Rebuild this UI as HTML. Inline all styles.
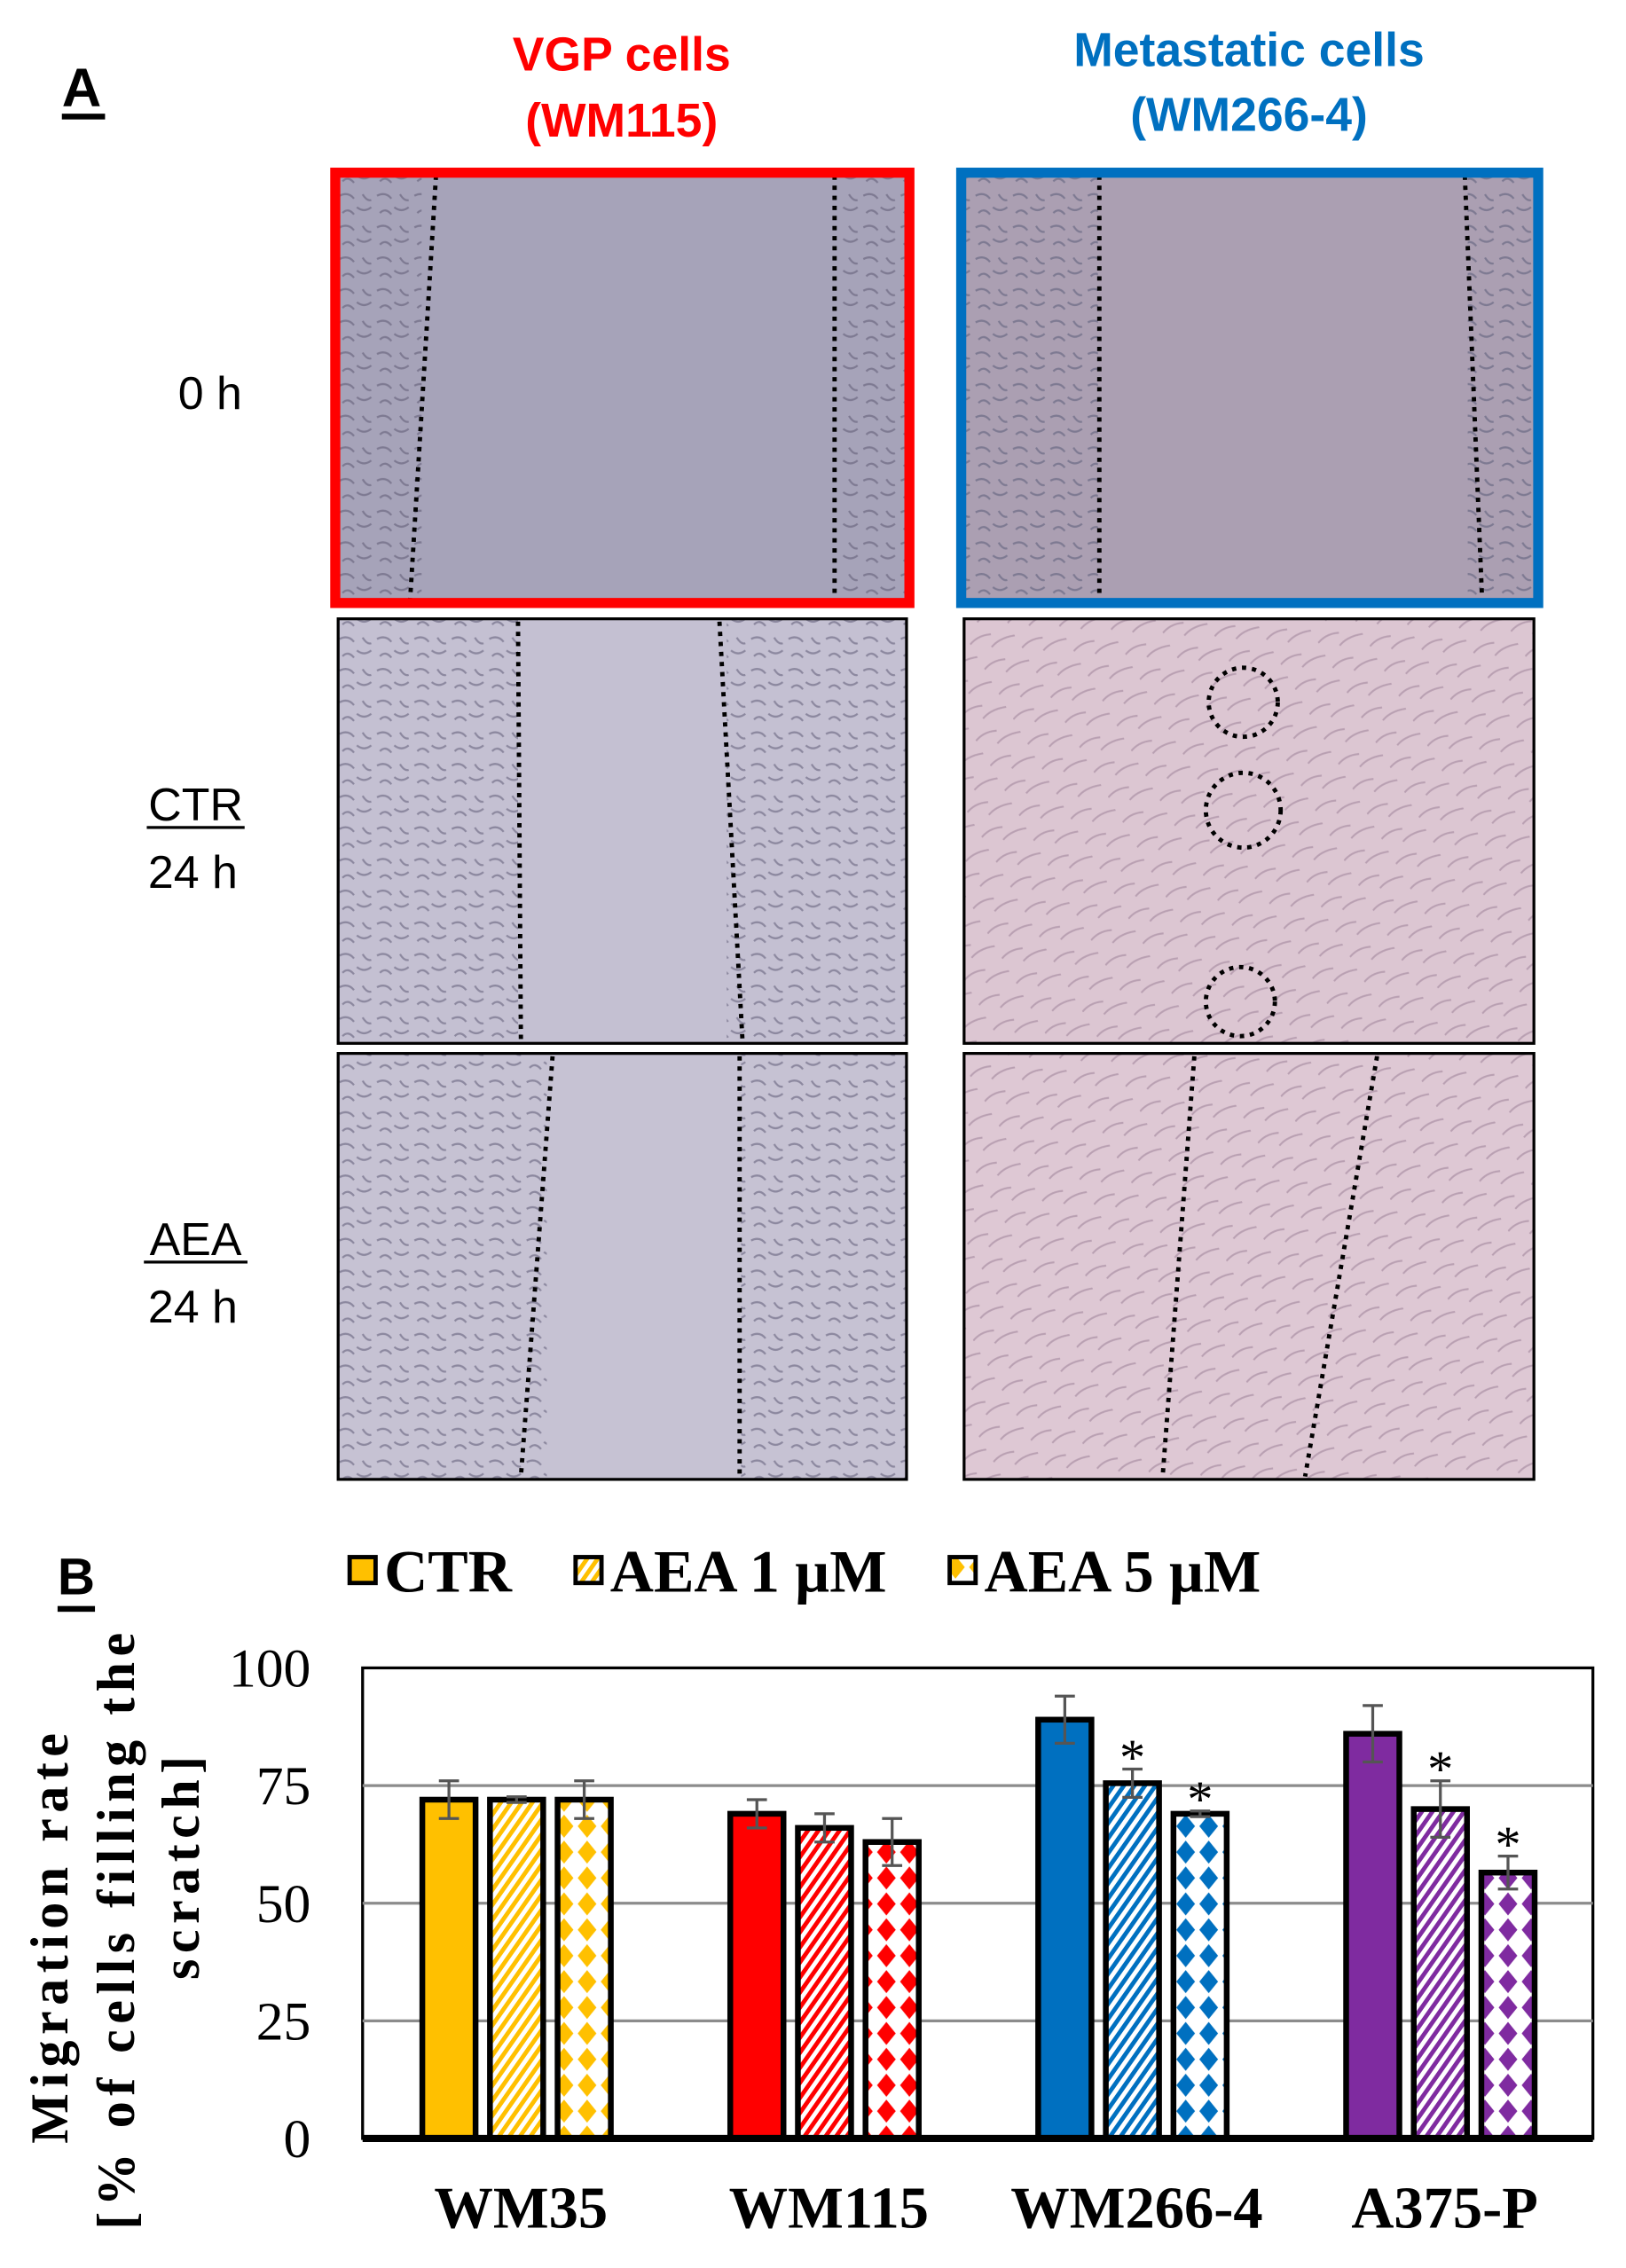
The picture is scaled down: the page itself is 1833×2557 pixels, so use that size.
<!DOCTYPE html>
<html><head><meta charset="utf-8"><style>
html,body{margin:0;padding:0;background:#fff;}
svg{display:block;}
.arial{font-family:"Liberation Sans",Arial,sans-serif;}
.times{font-family:"Liberation Serif","Times New Roman",serif;}
</style></head><body>
<svg id="fig" width="1833" height="2557" viewBox="0 0 1130 1576" preserveAspectRatio="none" xmlns="http://www.w3.org/2000/svg">
<defs>
  <pattern id="cellsA" width="26" height="22" patternUnits="userSpaceOnUse">
    <path d="M2 4 q6 -3 10 2 M14 12 q5 4 10 0 M4 16 q4 -4 8 1 M18 3 q3 5 6 4" stroke="#7e7a92" stroke-width="1.4" fill="none"/>
  </pattern>
  <pattern id="cellsB" width="30" height="20" patternUnits="userSpaceOnUse" patternTransform="rotate(-30)">
    <path d="M0 5 q8 -3 16 1 M12 14 q8 -3 18 1" stroke="#b9a0b2" stroke-width="1.3" fill="none"/>
  </pattern>
</defs>

<!-- Panel A -->
<text class="arial" x="43" y="74" font-size="38" font-weight="bold">A</text>
<rect x="43" y="79" width="30" height="4" fill="#000"/>

<text class="arial" x="432" y="49" font-size="33" font-weight="bold" fill="#ff0000" text-anchor="middle">VGP cells</text>
<text class="arial" x="432" y="95" font-size="33" font-weight="bold" fill="#ff0000" text-anchor="middle">(WM115)</text>
<text class="arial" x="868" y="46" font-size="33" font-weight="bold" fill="#0070c0" text-anchor="middle">Metastatic  cells</text>
<text class="arial" x="868" y="91" font-size="33" font-weight="bold" fill="#0070c0" text-anchor="middle">(WM266-4)</text>

<text class="arial" x="146" y="284" font-size="32" text-anchor="middle">0 h</text>
<text class="arial" x="136" y="570" font-size="32" text-anchor="middle">CTR</text>
<rect x="102" y="574" width="68" height="2" fill="#000"/>
<text class="arial" x="134" y="617" font-size="32" text-anchor="middle">24 h</text>
<text class="arial" x="136" y="872" font-size="32" text-anchor="middle">AEA</text>
<rect x="100" y="876" width="72" height="2" fill="#000"/>
<text class="arial" x="134" y="919" font-size="32" text-anchor="middle">24 h</text>

<!-- micrographs -->
<g>
  <rect x="233" y="120" width="399" height="299" fill="#a6a3b9"/>
  <rect x="233" y="120" width="60" height="299" fill="url(#cellsA)"/>
  <rect x="585" y="120" width="47" height="299" fill="url(#cellsA)"/>
  <line x1="303" y1="122" x2="285" y2="417" stroke="#000" stroke-width="3" stroke-dasharray="3,4"/>
  <line x1="580" y1="122" x2="580" y2="417" stroke="#000" stroke-width="3" stroke-dasharray="3,4"/>
  <rect x="233" y="120" width="399" height="299" fill="none" stroke="#ff0000" stroke-width="7"/>
</g>
<g>
  <rect x="668" y="120" width="401" height="299" fill="#ab9fb2"/>
  <rect x="668" y="120" width="95" height="299" fill="url(#cellsA)"/>
  <rect x="1020" y="120" width="49" height="299" fill="url(#cellsA)"/>
  <line x1="764" y1="122" x2="764" y2="417" stroke="#000" stroke-width="3" stroke-dasharray="3,4"/>
  <line x1="1018" y1="122" x2="1030" y2="417" stroke="#000" stroke-width="3" stroke-dasharray="3,4"/>
  <rect x="668" y="120" width="401" height="299" fill="none" stroke="#0070c0" stroke-width="7"/>
</g>
<g>
  <rect x="235" y="430" width="395" height="295" fill="#c4c0d2"/>
  <rect x="235" y="430" width="125" height="295" fill="url(#cellsA)" opacity="0.8"/>
  <rect x="505" y="430" width="125" height="295" fill="url(#cellsA)" opacity="0.8"/>
  <line x1="360" y1="432" x2="362" y2="723" stroke="#000" stroke-width="3" stroke-dasharray="3,4"/>
  <line x1="500" y1="432" x2="516" y2="723" stroke="#000" stroke-width="3" stroke-dasharray="3,4"/>
  <rect x="235" y="430" width="395" height="295" fill="none" stroke="#000" stroke-width="2"/>
</g>
<g>
  <rect x="670" y="430" width="396" height="295" fill="#dcc6d2"/>
  <rect x="670" y="430" width="396" height="295" fill="url(#cellsB)"/>
  <circle cx="864" cy="488" r="24" fill="none" stroke="#000" stroke-width="3" stroke-dasharray="3,4"/>
  <circle cx="864" cy="563" r="26" fill="none" stroke="#000" stroke-width="3" stroke-dasharray="3,4"/>
  <circle cx="862" cy="696" r="24" fill="none" stroke="#000" stroke-width="3" stroke-dasharray="3,4"/>
  <rect x="670" y="430" width="396" height="295" fill="none" stroke="#000" stroke-width="2"/>
</g>
<g>
  <rect x="235" y="732" width="395" height="296" fill="#c6c2d3"/>
  <rect x="235" y="732" width="145" height="296" fill="url(#cellsA)" opacity="0.8"/>
  <rect x="515" y="732" width="115" height="296" fill="url(#cellsA)" opacity="0.8"/>
  <line x1="384" y1="734" x2="362" y2="1026" stroke="#000" stroke-width="3" stroke-dasharray="3,4"/>
  <line x1="514" y1="734" x2="514" y2="1026" stroke="#000" stroke-width="3" stroke-dasharray="3,4"/>
  <rect x="235" y="732" width="395" height="296" fill="none" stroke="#000" stroke-width="2"/>
</g>
<g>
  <rect x="670" y="732" width="396" height="296" fill="#dec8d4"/>
  <rect x="670" y="732" width="396" height="296" fill="url(#cellsB)"/>
  <line x1="830" y1="734" x2="808" y2="1026" stroke="#000" stroke-width="3" stroke-dasharray="3,4"/>
  <line x1="957" y1="734" x2="907" y2="1026" stroke="#000" stroke-width="3" stroke-dasharray="3,4"/>
  <rect x="670" y="732" width="396" height="296" fill="none" stroke="#000" stroke-width="2"/>
</g>

<!-- Panel B -->
<text class="arial" x="40" y="1108" font-size="36" font-weight="bold">B</text>
<rect x="40" y="1116" width="26" height="4" fill="#000"/>

<g id="legend"></g>
<g id="chart"></g>
</svg>
<script>
const categories = ["WM35", "WM115", "WM266-4", "A375-P"];
const seriesNames = ["CTR", "AEA 1 µM", "AEA 5 µM"];
const ctrValues = [72, 69, 89, 86];
const aea1Values = [72, 66, 75.5, 70];
const aea5Values = [72, 63, 69, 56.5];
const ctrErrors = [4, 3, 5, 6];
const aea1Errors = [0.6, 3, 3, 6];
const aea5Errors = [4, 5, 0.6, 3.5];
const aea1Significant = [false, false, true, true];
const aea5Significant = [false, false, true, true];
const yTicks = [0, 25, 50, 75, 100];
const groupColors = ["#ffc000", "#ff0000", "#0070c0", "#7f2ba0"];

const NS = "http://www.w3.org/2000/svg";
const svg = document.getElementById("fig");
const chart = document.getElementById("chart");
const legend = document.getElementById("legend");
const defs = svg.querySelector("defs");
function mk(tag, attrs, parent) {
  const e = document.createElementNS(NS, tag);
  for (const k in attrs) e.setAttribute(k, attrs[k]);
  parent.appendChild(e);
  return e;
}
const plot = {x0: 252, x1: 1107, y0: 1159, y1: 1486};
const yMax = 100;
function yScale(v) { return plot.y1 - (v / yMax) * (plot.y1 - plot.y0); }
const groupStart = 359, groupStep = 214;
function xGroup(i) { return groupStart + i * groupStep; }
const barOffsets = [-47, 0, 47];
const barW = 37;

// patterns
groupColors.forEach((c, i) => {
  const p1 = mk("pattern", {id: "stripe" + i, width: 6, height: 6, patternUnits: "userSpaceOnUse", patternTransform: "rotate(35)"}, defs);
  mk("rect", {width: 6, height: 6, fill: "#fff"}, p1);
  mk("rect", {width: 3, height: 6, fill: c}, p1);
  const p2 = mk("pattern", {id: "diamond" + i, width: 16, height: 18, patternUnits: "userSpaceOnUse", x: 0, y: 0}, defs);
  mk("rect", {width: 16, height: 18, fill: "#fff"}, p2);
  mk("polygon", {points: "8,1 14.5,9 8,17 1.5,9", fill: c}, p2);
});

// plot frame & grid
const frame = mk("rect", {x: plot.x0, y: plot.y0, width: plot.x1 - plot.x0, height: plot.y1 - plot.y0, fill: "#fff", stroke: "#000", "stroke-width": 2}, chart);


yTicks.forEach(t => {
  const y = yScale(t);
  if (t > 0 && t < yMax) {
    const g = mk("line", {x1: plot.x0, x2: plot.x1, y1: y, y2: y, stroke: "#8c8c8c", "stroke-width": 2}, chart);
    
    
  }
  const tx = mk("text", {x: 216, y: y + 13, "font-size": 38, "text-anchor": "end", class: "times"}, chart);
  tx.textContent = t;
  
  
});

// y-axis title
const titleLines = [["Migration rate", 47, 1345], ["[% of cells filling the", 93, 1340], ["scratch]", 138, 1296]];
titleLines.forEach((l, i) => {
  const t = mk("text", {x: l[1], y: l[2], "font-size": 37, "font-weight": "bold", "text-anchor": "middle", class: "times", "letter-spacing": 4, transform: "rotate(-90 " + l[1] + " " + l[2] + ")"}, chart);
  t.textContent = l[0];
  
  
});

// bars
const series = [ctrValues, aea1Values, aea5Values];
const errs = [ctrErrors, aea1Errors, aea5Errors];
const sig = [null, aea1Significant, aea5Significant];
const sNames = ["ctr", "aea1", "aea5"];
categories.forEach((cat, gi) => {
  series.forEach((vals, si) => {
    const v = vals[gi];
    const cx = xGroup(gi) + barOffsets[si];
    const y = yScale(v);
    const fill = si === 0 ? groupColors[gi] : (si === 1 ? "url(#stripe" + gi + ")" : "url(#diamond" + gi + ")");
    const r = mk("rect", {x: cx - barW / 2, y: y, width: barW, height: plot.y1 - y, fill: fill, stroke: "#000", "stroke-width": 4}, chart);
    
    
    const e = errs[si][gi];
    const eg = mk("g", {stroke: "#555", "stroke-width": 2}, chart);
    
    
    mk("line", {x1: cx, x2: cx, y1: yScale(v + e), y2: yScale(v - e)}, eg);
    mk("line", {x1: cx - 7, x2: cx + 7, y1: yScale(v + e), y2: yScale(v + e)}, eg);
    mk("line", {x1: cx - 7, x2: cx + 7, y1: yScale(v - e), y2: yScale(v - e)}, eg);
    if (sig[si] && sig[si][gi]) {
      const s = mk("text", {x: cx, y: yScale(v + e) + 4, "font-size": 36, "text-anchor": "middle", class: "times"}, chart);
      s.textContent = "*";
      
      
    }
  });
  const lab = mk("text", {x: xGroup(gi) + 3, y: 1548, "font-size": 41, "font-weight": "bold", "text-anchor": "middle", class: "times"}, chart);
  lab.textContent = cat;
  
  
});
// baseline
const base = mk("line", {x1: plot.x0, x2: plot.x1, y1: plot.y1, y2: plot.y1, stroke: "#000", "stroke-width": 5}, chart);



// legend
const legendX = [243, 400, 660];
seriesNames.forEach((n, i) => {
  const g = mk("g", {}, legend);
  
  
  const fill = i === 0 ? groupColors[0] : (i === 1 ? "url(#stripe0)" : "url(#diamond0)");
  mk("rect", {x: legendX[i], y: 1082, width: 18, height: 18, fill: fill, stroke: "#000", "stroke-width": 3}, g);
  const t = mk("text", {x: legendX[i] + 24, y: 1106, "font-size": 42, "font-weight": "bold", class: "times"}, g);
  t.textContent = n;
});
</script>
</body></html>
